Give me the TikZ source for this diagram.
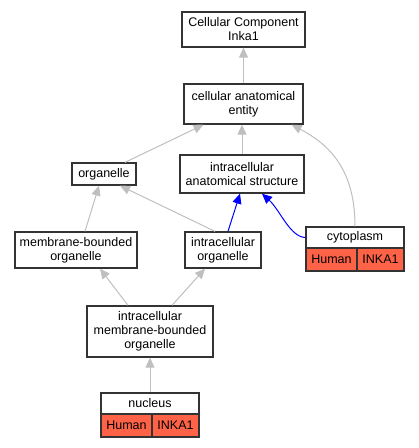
\documentclass[tikz,border=0pt]{standalone}
\usepackage{fontspec}
\setmainfont{Liberation Sans}
\usetikzlibrary{arrows.meta}
\definecolor{TomatoRed}{rgb}{1.0, 0.39, 0.28}
\definecolor{EdgeGrey}{rgb}{0.75, 0.75, 0.75}

\tikzset{
  termbox/.style={draw=black!80, line width=1.3pt, fill=white, align=center, inner sep=0pt, font=\fontsize{12.5}{14}\selectfont},
  cellbox/.style={draw=black!80, line width=1.3pt, fill=TomatoRed, inner sep=0pt, font=\fontsize{12.5}{14}\selectfont},
  isa/.style={draw=EdgeGrey, line width=1pt, -{Triangle[length=10pt,width=9pt]}},
  partof/.style={draw=blue, line width=1pt, -{Triangle[length=10pt,width=9pt]}}
}

\begin{document}
\begin{tikzpicture}[x=1pt,y=1pt,yscale=-1,xscale=1]
		% Set diagram frame: 419 wide, 448 high
		\useasboundingbox (0,0) rectangle (419,448);

		% The root term
		\node (root) at (243.5,29.5) [termbox, minimum width=123pt, minimum height=35pt] {Cellular Component\\Inka1};

		% The second level
		\node (cae) at (243.5,104) [termbox, minimum width=119pt, minimum height=40pt] {cellular anatomical\\entity};

		% The third level
		\node (org) at (104,174) [termbox, minimum width=64pt, minimum height=22pt] {organelle};
		\node (ias) at (242,174) [termbox, minimum width=124pt, minimum height=38pt] {intracellular\\anatomical structure};

		% The fourth level
		\node (mbo) at (76,250) [termbox, minimum width=122pt, minimum height=36pt] {membrane-bounded\\organelle};
		\node (io) at (223,250) [termbox, minimum width=76pt, minimum height=36pt] {intracellular\\organelle};

		% The term "cytoplasm" with its annotation cells
		\node (cyto) at (355,237.5) [termbox, minimum width=98pt, minimum height=21pt] {cytoplasm};
		\node (cytoHuman) at (331.5,259.5) [cellbox, minimum width=51pt, minimum height=23pt] {Human};
		\node (cytoGene) at (380.5,259.5) [cellbox, minimum width=47pt, minimum height=23pt] {INKA1};

		% The fifth level
		\node (imbo) at (150,331.5) [termbox, minimum width=126pt, minimum height=51pt] {intracellular\\membrane-bounded\\organelle};

		% The term "nucleus" with its annotation cells
		\node (nuc) at (150,403.5) [termbox, minimum width=98pt, minimum height=21pt] {nucleus};
		\node (nucHuman) at (126.5,425.5) [cellbox, minimum width=51pt, minimum height=23pt] {Human};
		\node (nucGene) at (175.5,425.5) [cellbox, minimum width=47pt, minimum height=23pt] {INKA1};

		% Grey is_a edges
		\draw[isa] (cae) -- (root);
		\draw[isa] (ias) -- (cae.south -| ias.north);
		\draw[isa] ([xshift=21pt]org.north) -- ([xshift=-40pt]cae.south);
		\draw[isa] (cyto.north) .. controls (355,170) and (330,145) .. ([xshift=-12pt]cae.south east);
		\draw[isa] ([xshift=9pt]mbo.north) -- ([xshift=-5pt]org.south);
		\draw[isa] ([xshift=-8pt]io.north) -- ([xshift=16pt]org.south);
		\draw[isa] ([xshift=-22pt]imbo.north) -- ([xshift=24pt]mbo.south);
		\draw[isa] ([xshift=22pt]imbo.north) -- ([xshift=-18pt]io.south);
		\draw[isa] (nuc) -- (imbo);

		% Blue part_of edges
		\draw[partof] ([xshift=5pt]io.north) -- ([xshift=-2pt]ias.south);
		\draw[partof] (cyto.west) .. controls (290,237) and (280,210) .. ([xshift=20pt]ias.south);
	\end{tikzpicture}
\end{document}
